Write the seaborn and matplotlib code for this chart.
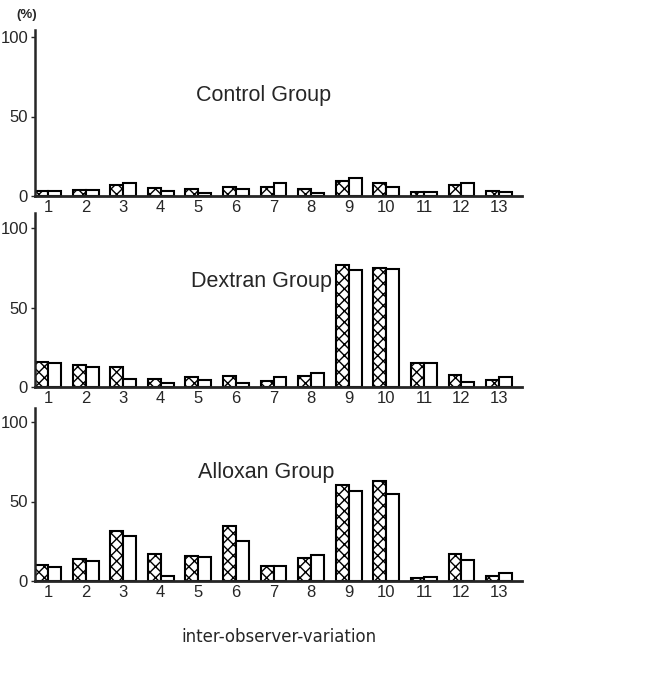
import matplotlib
matplotlib.use("Agg")
import matplotlib.pyplot as plt
import pandas as pd
import seaborn as sns

sns.set_style("ticks")
plt.rcParams['font.family'] = ['Liberation Sans Narrow', 'Liberation Sans', 'DejaVu Sans']
plt.rcParams['hatch.linewidth'] = 1.0

items = [str(i) for i in range(1, 14)]
observers = ["observer 1", "observer 2"]

control_obs1 = [3.0, 4.0, 6.7, 4.8, 4.4, 5.9, 5.9, 4.4, 9.6, 8.0, 2.5, 6.9, 3.4]
control_obs2 = [3.0, 3.8, 8.4, 3.4, 1.7, 4.2, 8.2, 1.7, 11.5, 5.5, 2.3, 8.4, 2.5]
dextran_obs1 = [15.9, 14.0, 12.3, 5.0, 6.3, 6.7, 3.8, 6.9, 76.8, 75.1, 15.3, 7.3, 4.2]
dextran_obs2 = [15.0, 12.8, 5.0, 2.3, 4.2, 2.3, 6.0, 8.6, 73.6, 74.5, 15.3, 2.9, 6.3]
alloxan_obs1 = [10.0, 13.8, 31.5, 16.7, 16.0, 34.6, 9.4, 14.2, 60.4, 62.9, 1.7, 16.7, 2.9]
alloxan_obs2 = [8.5, 12.3, 28.1, 3.1, 15.2, 25.4, 9.4, 16.3, 56.9, 54.8, 2.3, 13.3, 4.8]

panels = [
    ("Control Group", control_obs1, control_obs2),
    ("Dextran Group", dextran_obs1, dextran_obs2),
    ("Alloxan Group", alloxan_obs1, alloxan_obs2),
]

# pixel layout of the three panels (0 line, top of spine)
W, H = 661, 675
px_per_unit = 1.59
zero_rows = [196, 387, 581]
top_rows = [30, 213, 408]
title_pos = [(3.95, 63.5), (3.8, 66.5), (4.0, 68.0)]

fig = plt.figure(figsize=(W / 100, H / 100), dpi=100)

for (name, obs1, obs2), y0, y1, (tx, ty) in zip(panels, zero_rows, top_rows, title_pos):
    ax = fig.add_axes([35 / W, 1 - y0 / H, 487 / W, (y0 - y1) / H])
    df = pd.DataFrame({
        "item": items * 2,
        "observer": [observers[0]] * 13 + [observers[1]] * 13,
        "value": obs1 + obs2,
    })
    sns.barplot(data=df, x="item", y="value", hue="observer", order=items,
                hue_order=observers, palette=["white", "white"], saturation=1,
                edgecolor="black", linewidth=1.5, width=0.69, gap=0,
                errorbar=None, legend=False, ax=ax)
    # first observer is cross-hatched, second left open
    for bar in ax.containers[0]:
        bar.set_hatch("xxx")

    ax.set_xlim(-0.345, 12.61)
    ax.set_ylim(0, (y0 - y1) / px_per_unit)
    ax.set_yticks([0, 50, 100])
    ax.set_xlabel("")
    ax.set_ylabel("")
    ax.tick_params(axis="x", length=0, pad=3, labelsize=12)
    ax.tick_params(axis="y", length=3, width=1, pad=2, labelsize=12)
    for s in ["top", "right"]:
        ax.spines[s].set_visible(False)
    ax.spines["left"].set_linewidth(1.8)
    ax.spines["bottom"].set_linewidth(2.0)
    ax.text(tx, ty, name, ha="left", va="center", fontsize=15.5)

fig.text(27 / W, 1 - 15 / H, "(%)", ha="center", va="center", fontsize=9.5, fontweight="bold")
fig.text(279 / W, 1 - 637 / H, "inter-observer-variation", ha="center", va="center",
         fontsize=12, family=["DejaVu Sans"])

fig.savefig("out.png", dpi=100)
